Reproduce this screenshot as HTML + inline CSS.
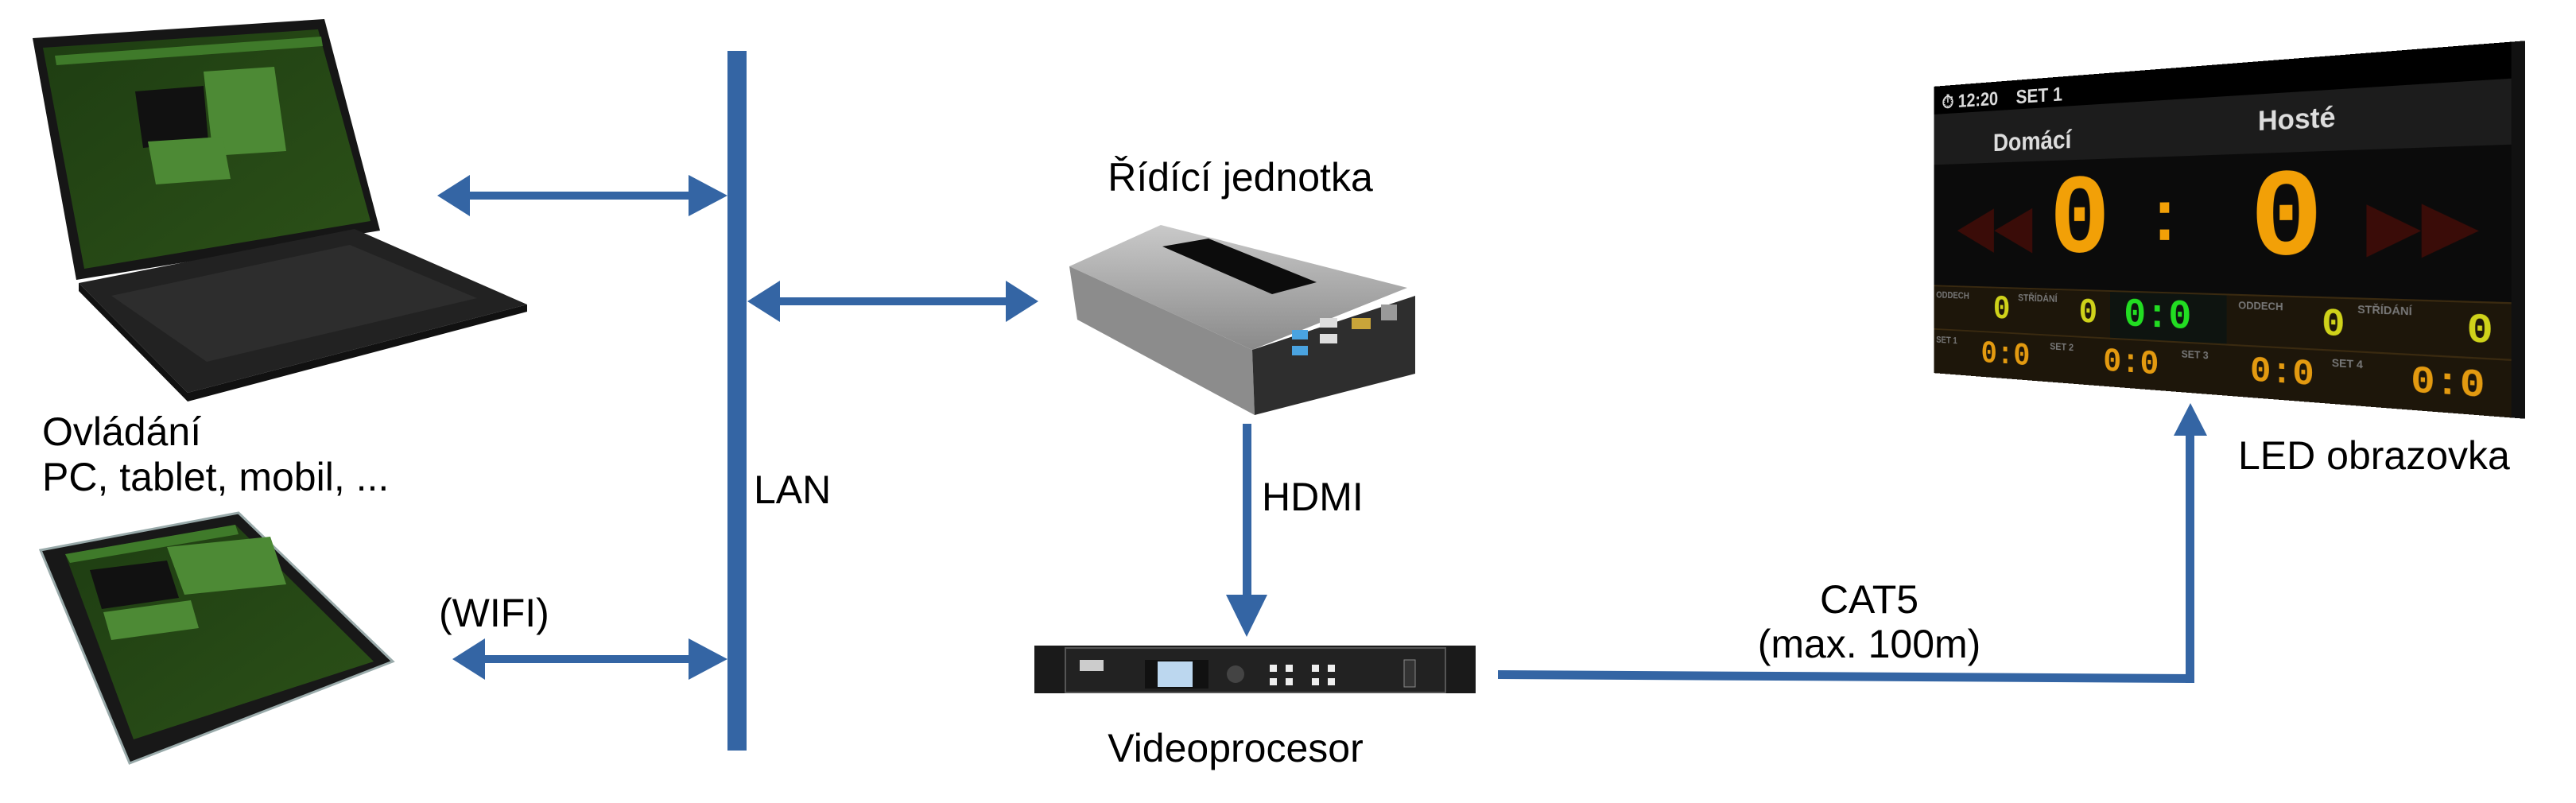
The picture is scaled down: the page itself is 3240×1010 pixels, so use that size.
<!DOCTYPE html>
<html><head><meta charset="utf-8">
<style>
html,body{margin:0;padding:0;background:#fff;}
body{width:3240px;height:1010px;position:relative;overflow:hidden;font-family:"Liberation Sans",sans-serif;}
.t{position:absolute;font-size:50px;color:#000;white-space:nowrap;line-height:1;}
#led{position:absolute;left:2363px;top:84px;width:780px;height:410px;transform-origin:50% 50%;transform:perspective(1000px) rotateY(-20.7deg);background:#0b0b0b;border-right:14px solid #111;box-sizing:border-box;font-family:"Liberation Sans",sans-serif;overflow:hidden}
#led .bar{position:absolute;left:0;top:0;width:100%;height:40px;background:#000;color:#ddd;font-weight:bold;font-size:26px;padding:8px 14px;box-sizing:border-box}
#led .names{position:absolute;left:0;top:40px;width:100%;height:72px;background:#1c1c1c;color:#ddd;font-weight:bold;font-size:34px}
#led .big{position:absolute;top:120px;font-size:150px;font-weight:bold;color:#f2a007;font-family:"Liberation Mono",monospace;line-height:1}
#led .row{position:absolute;left:0;width:100%;background:#1d160a;border-top:2px solid #3a2a10}
#led .d{position:absolute;font-family:"Liberation Mono",monospace;font-weight:bold;line-height:1}
#led .l{position:absolute;color:#777;font-size:13px;font-weight:bold}
</style></head><body>
<svg width="3240" height="1010" style="position:absolute;left:0;top:0">
 <defs>
  <linearGradient id="gs" x1="0" y1="0" x2="1" y2="1"><stop offset="0" stop-color="#1e3d12"/><stop offset="1" stop-color="#2c5118"/></linearGradient>
  <linearGradient id="sil" x1="0" y1="0" x2="0" y2="1"><stop offset="0" stop-color="#c9c9c9"/><stop offset="1" stop-color="#8a8a8a"/></linearGradient>
 </defs>
 <polygon points="41,48 408,24 478,290 96,352" fill="#161616"/>
 <polygon points="54,60 400,37 466,278 106,338" fill="url(#gs)"/>
 <polygon points="69,70 404,46 406,58 71,82" fill="#3f7a2a"/>
 <polygon points="170,115 256,108 262,178 180,186" fill="#111"/>
 <polygon points="256,90 345,84 360,190 268,196" fill="#4d8a35"/>
 <polygon points="186,178 280,172 290,225 196,232" fill="#4d8a35"/>
 <polygon points="99,356 446,288 663,383 236,494" fill="#222"/>
 <polygon points="140,372 440,308 600,375 260,455" fill="#2d2d2d"/>
 <polygon points="99,356 236,494 236,505 99,366" fill="#111"/>
 <polygon points="236,494 663,383 663,392 236,505" fill="#111"/>
 <polygon points="51,692 300,645 494,832 163,960" fill="#181818" stroke="#9aa" stroke-width="3"/>
 <polygon points="82,697 296,660 470,832 168,930" fill="url(#gs)"/>
 <polygon points="82,697 296,660 300,672 88,708" fill="#3f7a2a"/>
 <polygon points="113,717 210,705 225,752 128,766" fill="#111"/>
 <polygon points="210,688 340,675 360,735 232,748" fill="#4d8a35"/>
 <polygon points="130,770 240,755 250,790 140,805" fill="#4d8a35"/>
 <rect x="915" y="64" width="24" height="880" fill="#3465a4"/>
 <g fill="#3465a4">
  <rect x="585" y="241" width="300" height="10"/>
  <polygon points="550,246 591,220 591,272"/>
  <polygon points="915,246 866,220 866,272"/>
  <rect x="604" y="824" width="280" height="10"/>
  <polygon points="569,829 610,803 610,855"/>
  <polygon points="915,829 866,803 866,855"/>
  <rect x="975" y="374" width="300" height="10"/>
  <polygon points="940,379 981,353 981,405"/>
  <polygon points="1306,379 1265,353 1265,405"/>
  <rect x="1563" y="533" width="11" height="220"/>
  <polygon points="1568,801 1542,748 1594,748"/>
  <polygon points="1884,843 2760,848 2760,859 1884,854" />
  <rect x="2749" y="540" width="11" height="319"/>
  <polygon points="2755,507 2734,548 2776,548"/>
 </g>
 <polygon points="1345,335 1460,283 1770,362 1575,440" fill="url(#sil)"/>
 <polygon points="1345,335 1575,440 1578,522 1355,402" fill="#8c8c8c"/>
 <polygon points="1575,440 1780,372 1780,470 1578,522" fill="#2e2e2e"/>
 <polygon points="1462,310 1520,300 1656,355 1600,370" fill="#0c0c0c"/>
 <rect x="1625" y="415" width="20" height="12" fill="#4aa3e0"/>
 <rect x="1625" y="435" width="20" height="12" fill="#4aa3e0"/>
 <rect x="1660" y="400" width="22" height="12" fill="#ddd"/>
 <rect x="1660" y="420" width="22" height="12" fill="#ddd"/>
 <rect x="1700" y="400" width="24" height="14" fill="#c9a53a"/>
 <rect x="1737" y="383" width="20" height="20" fill="#999"/>
 <rect x="1301" y="812" width="555" height="60" fill="#1a1a1a"/>
 <rect x="1340" y="815" width="478" height="56" fill="#222" stroke="#555" stroke-width="2"/>
 <rect x="1440" y="830" width="80" height="36" fill="#111"/>
 <rect x="1456" y="832" width="44" height="32" fill="#bcd7ef"/>
 <rect x="1358" y="830" width="30" height="14" fill="#ccc"/>
 <circle cx="1554" cy="848" r="11" fill="#444"/>
 <g fill="#eee"><rect x="1597" y="836" width="9" height="9"/><rect x="1617" y="836" width="9" height="9"/><rect x="1597" y="853" width="9" height="9"/><rect x="1617" y="853" width="9" height="9"/><rect x="1650" y="836" width="9" height="9"/><rect x="1670" y="836" width="9" height="9"/><rect x="1650" y="853" width="9" height="9"/><rect x="1670" y="853" width="9" height="9"/></g>
 <rect x="1766" y="830" width="14" height="34" fill="#333" stroke="#888"/>
</svg>

<div id="led">
 <div class="bar">⏱ 12:20 &nbsp;&nbsp; SET 1</div>
 <div class="names"><span style="position:absolute;left:100px;top:26px">Domácí</span><span style="position:absolute;left:480px;top:14px">Hosté</span></div>
 <div style="position:absolute;left:40px;top:160px;color:#3a0c08;font-size:80px;line-height:1">◀◀</div>
 <div style="position:absolute;left:610px;top:160px;color:#3a0c08;font-size:80px;line-height:1">▶▶</div>
 <div class="big" style="left:190px">0</div>
 <div class="big" style="left:330px;font-size:90px;top:150px">:</div>
 <div class="big" style="left:470px">0</div>
 <div class="row" style="top:284px;height:62px">
  <span class="l" style="left:4px;top:4px">ODDECH</span><span class="d" style="left:100px;top:6px;color:#cfd21a;font-size:46px">0</span>
  <span class="l" style="left:140px;top:4px">STŘÍDÁNÍ</span><span class="d" style="left:234px;top:6px;color:#cfd21a;font-size:46px">0</span>
  <span style="position:absolute;left:280px;top:0;width:160px;height:62px;background:#0e1410"></span>
  <span class="d" style="left:300px;top:4px;color:#22dd22;font-size:52px">0:0</span>
  <span class="l" style="left:455px;top:4px">ODDECH</span><span class="d" style="left:558px;top:8px;color:#cfd21a;font-size:46px">0</span>
  <span class="l" style="left:600px;top:4px">STŘÍDÁNÍ</span><span class="d" style="left:720px;top:8px;color:#cfd21a;font-size:46px">0</span>
 </div>
 <div class="row" style="top:346px;height:64px">
  <span class="l" style="left:4px;top:6px">SET 1</span><span class="d" style="left:80px;top:8px;color:#e39a10;font-size:44px">0:0</span>
  <span class="l" style="left:190px;top:6px">SET 2</span><span class="d" style="left:270px;top:8px;color:#e39a10;font-size:44px">0:0</span>
  <span class="l" style="left:380px;top:6px">SET 3</span><span class="d" style="left:470px;top:8px;color:#e39a10;font-size:44px">0:0</span>
  <span class="l" style="left:570px;top:6px">SET 4</span><span class="d" style="left:660px;top:8px;color:#e39a10;font-size:44px">0:0</span>
 </div>
</div>

<div class="t" style="left:53px;top:518px">Ovládání</div>
<div class="t" style="left:53px;top:575px">PC, tablet, mobil, ...</div>
<div class="t" style="left:552px;top:746px">(WIFI)</div>
<div class="t" style="left:948px;top:591px">LAN</div>
<div class="t" style="left:1560px;top:198px;transform:translateX(-50%)">Řídící jednotka</div>
<div class="t" style="left:1587px;top:600px">HDMI</div>
<div class="t" style="left:1554px;top:916px;transform:translateX(-50%)">Videoprocesor</div>
<div class="t" style="left:2351px;top:729px;transform:translateX(-50%)">CAT5</div>
<div class="t" style="left:2351px;top:785px;transform:translateX(-50%)">(max. 100m)</div>
<div class="t" style="left:2815px;top:548px">LED obrazovka</div>
</body></html>
